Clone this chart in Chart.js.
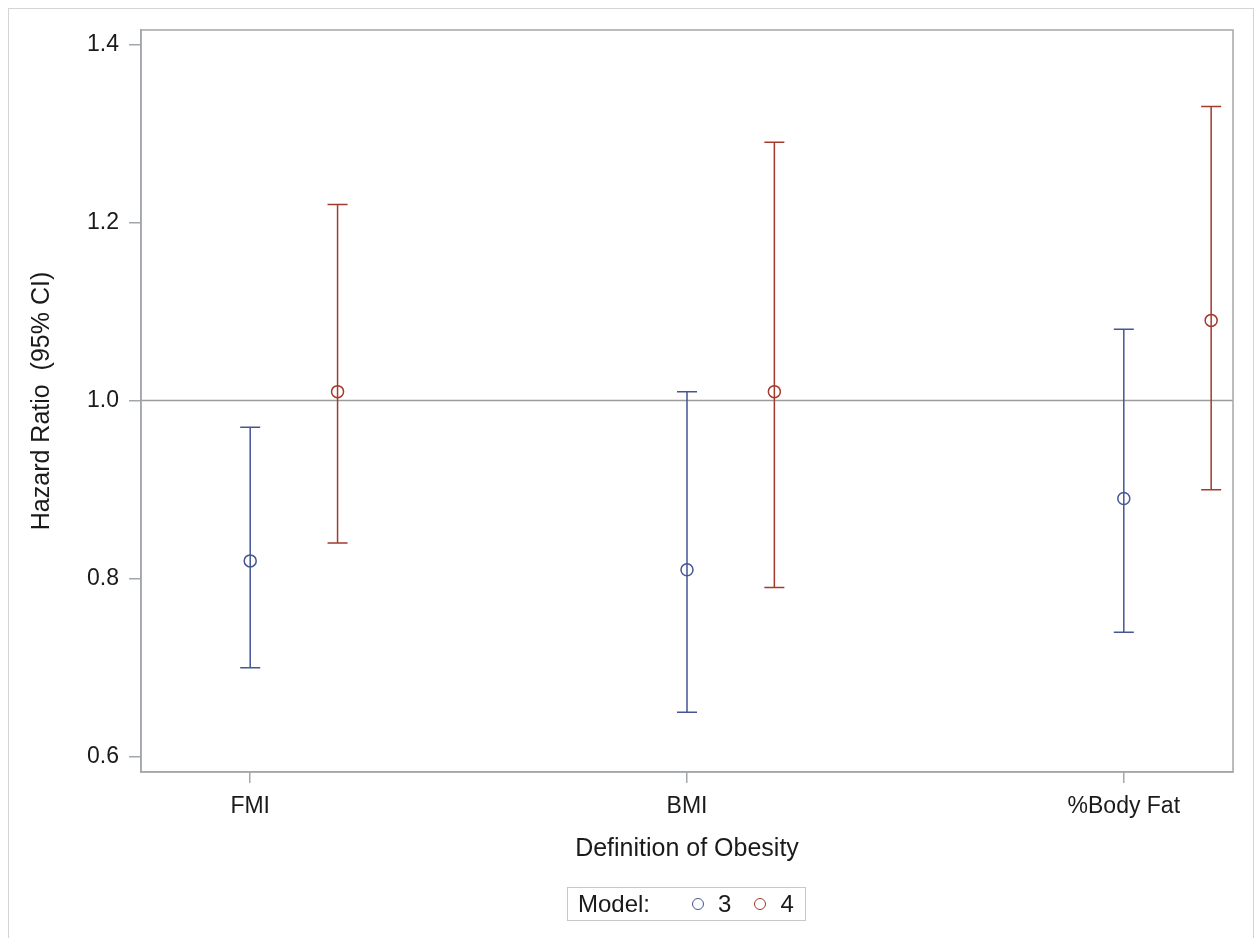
<!DOCTYPE html>
<html lang="en">
<head>
    <meta charset="UTF-8">
    <meta name="viewport" content="width=device-width, initial-scale=1.0">
    <script src="https://cdn.jsdelivr.net/npm/chart.js"></script>
    <title>Hazard Ratio by Definition of Obesity</title>
    <style>
        body { margin: 0; background: #fff; font-family: "Liberation Sans", Arial, sans-serif; }
        #moldura { position: absolute; left: 8px; top: 8px; width: 1244px; height: 940px; border: 1px solid #d4d4d4; }
        #grafico { position: absolute; left: 0; top: 0; }
        #legenda { position: absolute; left: 567px; top: 887px; width: 237px; height: 32px; border: 1px solid #c8c8c8;
                   display: flex; align-items: center; padding: 0; font-size: 24px; color: #1a1a1a; box-sizing: content-box; }
        #legenda .titulo { margin-left: 10px; margin-right: 42px; }
        #legenda .item { display: flex; align-items: center; margin-right: 23px; }
        #legenda .item:last-child { margin-right: 0; }
        #legenda .circulo { width: 10px; height: 10px; border: 1.5px solid; border-radius: 50%; margin-right: 14px; }
    </style>
</head>
<body>
    <div id="moldura"></div>
    <canvas id="grafico" width="1256" height="938"></canvas>
    <div id="legenda"><span class="titulo">Model:</span></div>

    <script>
        const categorias = ['FMI', 'BMI', '%Body Fat']
        const modelos = ['3', '4']
        const hr3 = [0.82, 0.81, 0.89]
        const inferior3 = [0.70, 0.65, 0.74]
        const superior3 = [0.97, 1.01, 1.08]
        const hr4 = [1.01, 1.01, 1.09]
        const inferior4 = [0.84, 0.79, 0.90]
        const superior4 = [1.22, 1.29, 1.33]
        const yTicks = [0.6, 0.8, 1.0, 1.2, 1.4]
        const referencia = 1.0

        const cores = ['#445694', '#A23A2E']
        const cinza = '#a3a7ab'
        const deslocamento = 0.2

        const pontos = (hr, inf, sup, desl) =>
            hr.map((v, i) => ({ x: i + desl, y: v, lo: inf[i], hi: sup[i] }))

        // error bars + reference line + box around the plot
        const barrasErro = {
            id: 'barrasErro',
            beforeDatasetsDraw(chart) {
                const { ctx, chartArea, scales: { x, y } } = chart
                ctx.save()
                const yr = y.getPixelForValue(referencia)
                ctx.strokeStyle = '#9c9c9c'
                ctx.lineWidth = 1.5
                ctx.beginPath()
                ctx.moveTo(chartArea.left, yr)
                ctx.lineTo(chartArea.right, yr)
                ctx.stroke()

                chart.data.datasets.forEach(ds => {
                    ctx.strokeStyle = ds.borderColor
                    ctx.lineWidth = 1.5
                    ds.data.forEach(p => {
                        const px = x.getPixelForValue(p.x)
                        const topo = y.getPixelForValue(p.hi)
                        const base = y.getPixelForValue(p.lo)
                        ctx.beginPath()
                        ctx.moveTo(px, topo); ctx.lineTo(px, base)
                        ctx.moveTo(px - 10, topo); ctx.lineTo(px + 10, topo)
                        ctx.moveTo(px - 10, base); ctx.lineTo(px + 10, base)
                        ctx.stroke()
                    })
                })
                ctx.restore()
            },
            afterDraw(chart) {
                const { ctx, chartArea } = chart
                ctx.save()
                ctx.strokeStyle = cinza
                ctx.lineWidth = 1.5
                ctx.strokeRect(chartArea.left, chartArea.top, chartArea.right - chartArea.left, chartArea.bottom - chartArea.top)
                ctx.restore()
            }
        }

        const fonte = { family: '"Liberation Sans", Arial, sans-serif', size: 23 }
        const fonteTitulo = { family: '"Liberation Sans", Arial, sans-serif', size: 25 }

        const ctx = document.getElementById('grafico')

        let grafico = new Chart(ctx, {
            type: 'scatter',
            data: {
                datasets: [
                    {
                        label: modelos[0],
                        data: pontos(hr3, inferior3, superior3, 0),
                        borderColor: cores[0],
                        backgroundColor: 'rgba(0,0,0,0)',
                        pointRadius: 6,
                        pointBorderWidth: 1.5
                    },
                    {
                        label: modelos[1],
                        data: pontos(hr4, inferior4, superior4, deslocamento),
                        borderColor: cores[1],
                        backgroundColor: 'rgba(0,0,0,0)',
                        pointRadius: 6,
                        pointBorderWidth: 1.5
                    }
                ]
            },
            options: {
                responsive: false,
                animation: false,
                devicePixelRatio: 1,
                layout: { padding: { left: 0, top: 30, right: 23, bottom: 66 } },
                plugins: {
                    legend: { display: false },
                    tooltip: { enabled: false }
                },
                scales: {
                    x: {
                        type: 'linear',
                        min: -0.25,
                        max: 2.25,
                        afterBuildTicks: s => { s.ticks = categorias.map((c, i) => ({ value: i })) },
                        afterFit: s => { s.height = 100 },
                        ticks: {
                            callback: v => categorias[v],
                            font: fonte,
                            color: '#1a1a1a',
                            padding: 10,
                            maxRotation: 0
                        },
                        grid: { drawOnChartArea: false, drawTicks: true, tickLength: 11, color: cinza, lineWidth: 1.5 },
                        border: { color: cinza, width: 1.5 },
                        title: {
                            display: true,
                            text: 'Definition of Obesity',
                            font: fonteTitulo,
                            color: '#1a1a1a',
                            padding: { top: 0, bottom: 8 }
                        }
                    },
                    y: {
                        type: 'linear',
                        min: 0.583,
                        max: 1.416,
                        afterBuildTicks: s => { s.ticks = yTicks.map(v => ({ value: v })) },
                        afterFit: s => { s.width = 141 },
                        ticks: {
                            callback: v => v.toFixed(1),
                            font: fonte,
                            color: '#1a1a1a',
                            padding: 10
                        },
                        grid: { drawOnChartArea: false, drawTicks: true, tickLength: 12, color: cinza, lineWidth: 1.5 },
                        border: { color: cinza, width: 1.5 },
                        title: {
                            display: true,
                            text: 'Hazard Ratio  (95% CI)',
                            font: fonteTitulo,
                            color: '#1a1a1a',
                            padding: { top: 27, bottom: 0 }
                        }
                    }
                }
            },
            plugins: [barrasErro]
        });

        // legend in html, built from the datasets
        const legenda = document.getElementById('legenda')
        grafico.data.datasets.forEach(ds => {
            const item = document.createElement('span')
            item.className = 'item'
            const c = document.createElement('span')
            c.className = 'circulo'
            c.style.borderColor = ds.borderColor
            item.appendChild(c)
            item.appendChild(document.createTextNode(ds.label))
            legenda.appendChild(item)
        })
    </script>
</body>
</html>
